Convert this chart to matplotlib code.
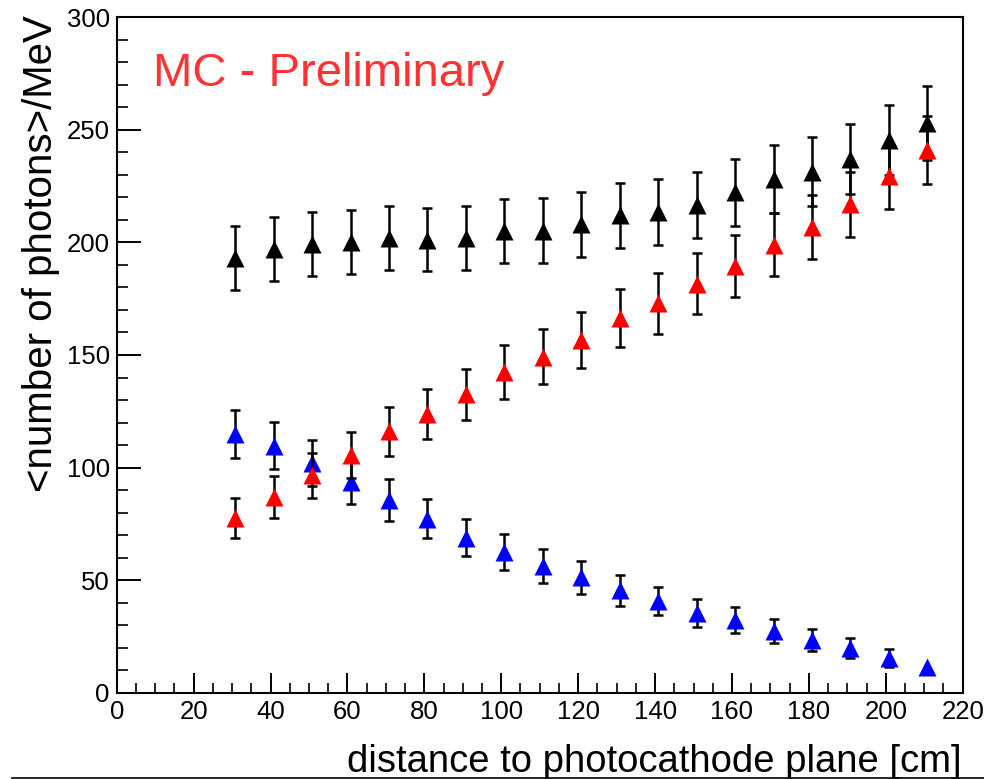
import matplotlib
matplotlib.use("Agg")
import matplotlib.pyplot as plt
from matplotlib.lines import Line2D
from matplotlib.ticker import MultipleLocator

plt.rcParams["font.family"] = ["Liberation Sans", "DejaVu Sans"]

# distance to photocathode plane [cm]
distance = [30.8, 40.8, 50.8, 60.8, 70.8, 80.8, 90.8, 100.8, 110.8, 120.8,
            130.8, 140.8, 150.8, 160.8, 170.8, 180.8, 190.8, 200.8, 210.8]

# <number of photons>/MeV
total = [193.0, 197.0, 199.3, 200.3, 202.0, 201.2, 201.9, 205.1, 205.3, 208.0,
         212.0, 213.5, 216.5, 222.2, 228.2, 231.5, 237.1, 245.5, 253.0]
total_err = [14.1, 14.1, 14.2, 14.1, 14.4, 14.1, 14.2, 14.3, 14.3, 14.4,
             14.6, 14.6, 14.7, 14.8, 15.1, 15.2, 15.4, 15.7, 16.3]

direct = [115.0, 109.7, 102.1, 93.5, 85.5, 77.2, 68.9, 62.5, 56.2, 51.3,
          45.5, 40.7, 35.5, 32.4, 27.5, 23.5, 19.9, 15.5, 11.4]
# last point: error hidden under the marker in the original
direct_err = [10.6, 10.5, 10.1, 9.7, 9.3, 8.7, 8.3, 8.0, 7.6, 7.3,
              6.8, 6.4, 6.1, 5.7, 5.3, 4.9, 4.5, 4.0, 0.0]

reflected = [77.6, 86.8, 96.5, 105.5, 116.1, 123.7, 132.5, 142.4, 149.3, 156.7,
             166.5, 172.9, 181.6, 189.4, 198.9, 207.0, 217.0, 229.5, 240.9]
reflected_err = [8.7, 9.3, 9.8, 10.3, 11.0, 11.1, 11.5, 11.9, 12.3, 12.6,
                 13.0, 13.4, 13.6, 13.8, 14.0, 14.2, 14.5, 14.7, 15.1]

series = [(total, total_err, "black"),
          (direct, direct_err, "#0000ff"),
          (reflected, reflected_err, "#ff0000")]

W, H = 984, 779
fig = plt.figure(figsize=(W / 100, H / 100), dpi=100)
ax = fig.add_axes([116.7 / W, (H - 692.7) / H, (962.7 - 116.7) / W, (692.7 - 17.3) / H])

for z, (vals, errs, col) in enumerate(series):
    # bars + caps (black) where an error is visible, then the triangles on top
    shown = [i for i, e in enumerate(errs) if e > 0]
    ax.errorbar([distance[i] for i in shown], [vals[i] for i in shown],
                yerr=[errs[i] for i in shown], fmt="none", ecolor="black",
                elinewidth=1.8, capsize=3.5, capthick=1.8, zorder=3 + 2 * z)
    ax.plot(distance, vals, "^", ms=12.5, mfc=col, mec="none", zorder=4 + 2 * z)

ax.set_xlim(0, 220)
ax.set_ylim(0, 300)
ax.xaxis.set_major_locator(MultipleLocator(20))
ax.xaxis.set_minor_locator(MultipleLocator(5))
ax.yaxis.set_major_locator(MultipleLocator(50))
ax.yaxis.set_minor_locator(MultipleLocator(10))
ax.tick_params(which="both", direction="in", top=False, right=False, labelsize=18.5)
ax.tick_params(axis="x", which="major", length=14.5, width=1.4, pad=5)
ax.tick_params(axis="x", which="minor", length=7.5, width=1.2)
ax.tick_params(axis="y", which="major", length=17, width=1.4, pad=5)
ax.tick_params(axis="y", which="minor", length=8, width=1.2)
for sp in ax.spines.values():
    sp.set_linewidth(1.5)

ax.text((153 - 116.7) / 846.0, (692.7 - 86) / 675.4, "MC - Preliminary",
        transform=ax.transAxes, color="#ff3333", fontsize=34, va="baseline", ha="left")

fig.text(962 / W, (H - 771.7) / H, "distance to photocathode plane [cm]",
         fontsize=27.5, ha="right", va="baseline")
fig.text(41 / W, (H - 15) / H, "<number of photons>/MeV",
         fontsize=29, rotation=90, ha="center", va="top")

fig.add_artist(Line2D([12 / W, 1.0], [1.5 / H, 1.5 / H], color="black", lw=1.2))

fig.savefig("out.png", dpi=100)
